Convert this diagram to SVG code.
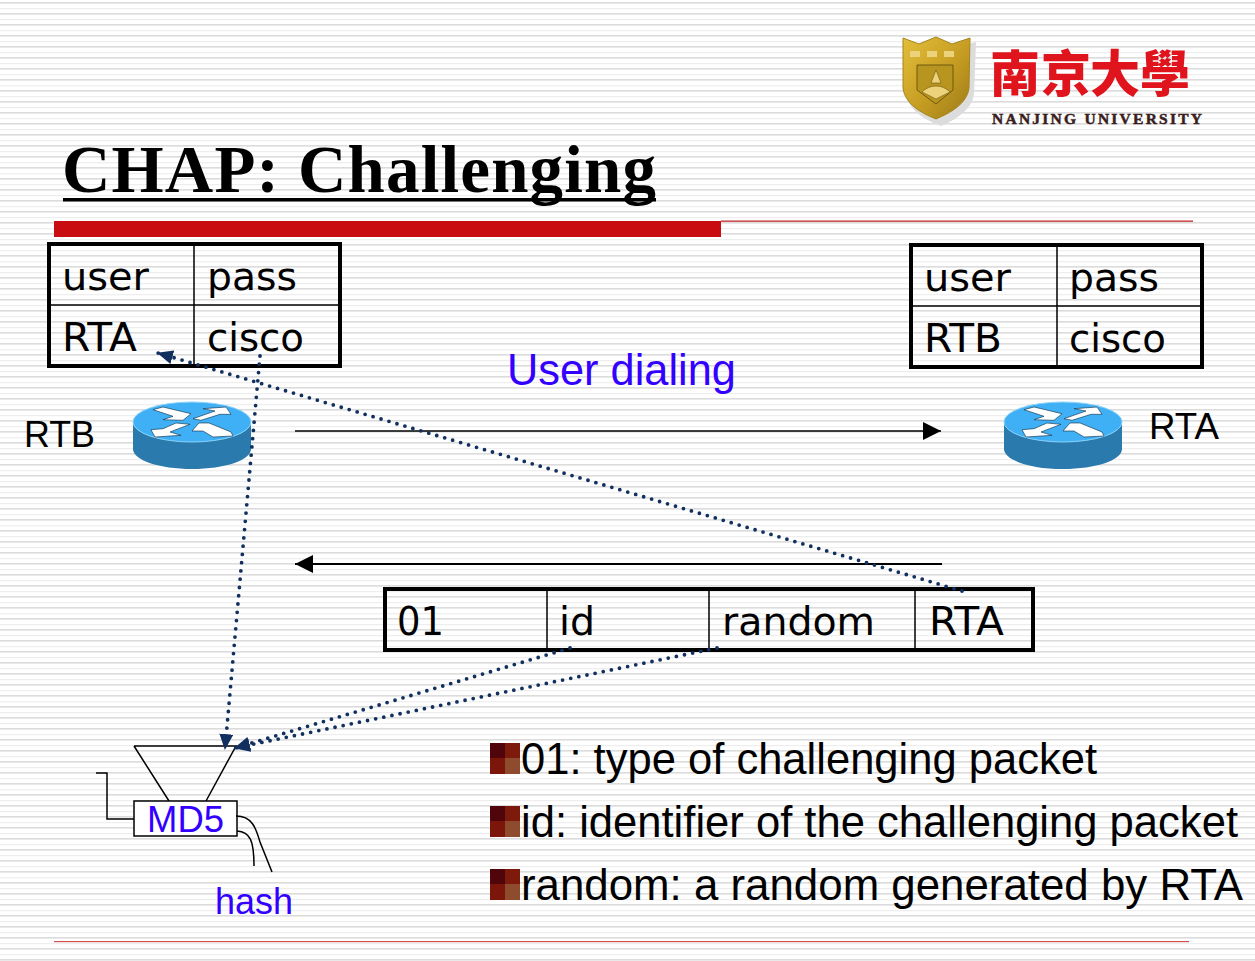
<svg xmlns="http://www.w3.org/2000/svg" width="1255" height="961" viewBox="0 0 1255 961">
<style>
text{font-family:"Liberation Sans",Arial,sans-serif}
.v{font-family:"DejaVu Sans",Verdana,sans-serif;font-size:38.500px;fill:#000}
.a{font-size:36.500px;fill:#000}
.b{font-size:44px;fill:#000}
.blue{fill:#3300ff}
.tb{fill:none;stroke:#000;stroke-width:4}
.ln{fill:none;stroke:#000;stroke-width:1.5}
.dot{fill:none;stroke:#12305f;stroke-width:3.8;stroke-dasharray:0 8.3;stroke-linecap:round}
</style>
<defs>
<pattern id="bg" width="10" height="11" patternUnits="userSpaceOnUse">
<rect width="10" height="11" fill="#fff"/>
<rect y="2" width="10" height="1.600" fill="#dcdcdc"/>
<rect y="8" width="10" height="1.200" fill="#eeeeee"/>
</pattern>
<linearGradient id="gold" x1="0" y1="0" x2="1" y2="1"><stop offset="0" stop-color="#e3bf3a"/><stop offset=".55" stop-color="#c59c22"/><stop offset="1" stop-color="#9a7a18"/></linearGradient>
<marker id="ah" markerWidth="16" markerHeight="14" refX="15" refY="7" orient="auto" markerUnits="userSpaceOnUse"><path d="M0 0L16 7L0 14Z" fill="#12305f"/></marker>
<marker id="bk" markerWidth="18" markerHeight="18" refX="18" refY="9" orient="auto" markerUnits="userSpaceOnUse"><path d="M0 0L18 9L0 18Z" fill="#000"/></marker>
<g id="router">
<path d="M0 21V48C0 59 26 68 59 68S118 59 118 48V21Z" fill="#2a7aae"/>
<ellipse cx="59" cy="21" rx="59" ry="20" fill="#3fb0f5" stroke="#8fd3f7"/>
<g fill="#fff" stroke="#0a2a40" stroke-width=".6">
<path d="M20 8.700L30 6L58 12.700L50 19.300L30 18.700L40 15.300Z"/>
<path d="M70 7.700L93 6L98 13.300L87 13.300L68 19.300L60 17.700L82 10Z"/>
<path d="M18 28.700L30 27.700L43 22L57 23.300L37 31L48 34.300L22 36Z"/>
<path d="M59 30L66 22L76 22L98 31L100 35L80 36L70 30Z"/>
</g>
</g>
<g id="bullet">
<rect width="15" height="15" fill="#4f0509"/><rect x="15" width="15" height="15" fill="#7e1a0c"/>
<rect y="15" width="15" height="16" fill="#7c160a"/><rect x="15" y="15" width="15" height="16" fill="#8f4b2d"/>
</g>
</defs>
<rect width="1255" height="961" fill="url(#bg)"/>
<g id="logo">
<path d="M906 40L922 46L941 40L959 46L976 42L974 94C972 110 955 120 941 126C925 120 908 110 906 94Z" fill="#dcdcdc"/>
<path d="M903 38L919 44L936 37L952 44L970 38L969 88C967 104 950 113 936 119C921 113 905 104 903 88Z" fill="url(#gold)" stroke="#a5841c"/>
<path d="M917 65H953V90L936 104L917 90Z" fill="#b8951f" stroke="#6f5810"/>
<path d="M936 70L941 83H931ZM922 92C930 84 942 84 950 92L936 99Z" fill="#ecd27a" stroke="#6f5810" stroke-width=".6"/>
<path d="M910 54H960" stroke="#ecd27a" stroke-width="6" stroke-dasharray="10 7"/>
<text y="92" font-size="50" fill="#e0141c" style="font-family:'Noto Sans CJK SC',sans-serif;font-weight:900" x="990 1041 1090 1140">南京大學</text>
<text x="1097" y="124" font-size="15.500" fill="#3a1e1e" stroke="#3a1e1e" stroke-width=".5" text-anchor="middle" font-weight="700" style="font-family:'Liberation Serif',serif" textLength="210">NANJING  UNIVERSITY</text>
</g>
<g id="title">
<text x="62" y="192" style="font-family:'Liberation Serif',serif;font-weight:700;font-size:67px" textLength="594">CHAP: Challenging</text>
<rect x="63" y="198" width="593" height="3.500" fill="#000"/>
<rect x="54" y="221" width="667" height="16" fill="#c80c0f"/>
<rect x="721" y="220.500" width="472" height="1.300" fill="#c0282a"/>
</g>
<g id="table-left">
<rect class="tb" x="49" y="244" width="291" height="122"/>
<path class="ln" d="M194 244V366M49 305H340"/>
<text class="v" x="62" y="290" textLength="87" lengthAdjust="spacingAndGlyphs">user</text><text class="v" x="207" y="290" textLength="90" lengthAdjust="spacingAndGlyphs">pass</text>
<text class="v" x="62" y="351" textLength="75" lengthAdjust="spacingAndGlyphs">RTA</text><text class="v" x="207" y="351" textLength="97" lengthAdjust="spacingAndGlyphs">cisco</text>
</g>
<g id="table-right">
<rect class="tb" x="911" y="245" width="291" height="122"/>
<path class="ln" d="M1057 245V367M911 306H1202"/>
<text class="v" x="924" y="291" textLength="87" lengthAdjust="spacingAndGlyphs">user</text><text class="v" x="1069" y="291" textLength="90" lengthAdjust="spacingAndGlyphs">pass</text>
<text class="v" x="924" y="352" textLength="78" lengthAdjust="spacingAndGlyphs">RTB</text><text class="v" x="1069" y="352" textLength="97" lengthAdjust="spacingAndGlyphs">cisco</text>
</g>
<text id="label-dialing" class="b blue" x="507" y="385" textLength="229" lengthAdjust="spacingAndGlyphs">User dialing</text>
<g id="rtb"><use href="#router" x="133" y="401"/><text class="a" x="24" y="447" textLength="71" lengthAdjust="spacingAndGlyphs">RTB</text></g>
<g id="rta"><use href="#router" x="1004" y="401"/><text class="a" x="1149" y="439" textLength="70" lengthAdjust="spacingAndGlyphs">RTA</text></g>
<g id="packet">
<rect class="tb" x="385" y="589" width="648" height="61"/>
<path class="ln" d="M547 589V650M709 589V650M915 589V650"/>
<text class="v" x="397" y="635" textLength="47" lengthAdjust="spacingAndGlyphs">01</text><text class="v" x="559" y="635" textLength="36" lengthAdjust="spacingAndGlyphs">id</text>
<text class="v" x="722" y="635" textLength="153" lengthAdjust="spacingAndGlyphs">random</text><text class="v" x="929" y="635" textLength="75" lengthAdjust="spacingAndGlyphs">RTA</text>
</g>
<g id="md5">
<path class="ln" d="M134 746H236L206 801M134 746L169 801"/>
<path class="ln" d="M96 773H107V819H134"/>
<rect x="134" y="801" width="103" height="35" fill="#fff" stroke="#000" stroke-width="1.500"/>
<text class="blue" x="147" y="832" font-size="36" textLength="77" lengthAdjust="spacingAndGlyphs">MD5</text>
<path class="ln" d="M236 816C252 816 256 828 260 842L272 872M237 831C250 832 254 840 254 866"/>
<text class="blue" x="215" y="914" font-size="36" textLength="78" lengthAdjust="spacingAndGlyphs">hash</text>
</g>
<g id="connectors">
<path class="ln" d="M295 431H941" marker-end="url(#bk)"/>
<path d="M942 564H295" fill="none" stroke="#000" stroke-width="2" marker-end="url(#bk)"/>
<path class="dot" d="M962 591L158 353" marker-end="url(#ah)"/>
<path class="dot" d="M260 356L225 749" marker-end="url(#ah)"/>
<path class="dot" d="M570 648L235 748" marker-end="url(#ah)"/>
<path class="dot" d="M717 648L235 748" marker-end="url(#ah)"/>
</g>
<g id="notes">
<use href="#bullet" x="490" y="743"/><text class="b" x="521" y="774" textLength="576" lengthAdjust="spacingAndGlyphs">01: type of challenging packet</text>
<use href="#bullet" x="490" y="806"/><text class="b" x="521" y="837" textLength="717" lengthAdjust="spacingAndGlyphs">id: identifier of the challenging packet</text>
<use href="#bullet" x="490" y="869"/><text class="b" x="521" y="900" textLength="722" lengthAdjust="spacingAndGlyphs">random: a random generated by RTA</text>
</g>
<rect x="54" y="941" width="1135" height="1.200" fill="#d05050"/>
</svg>
